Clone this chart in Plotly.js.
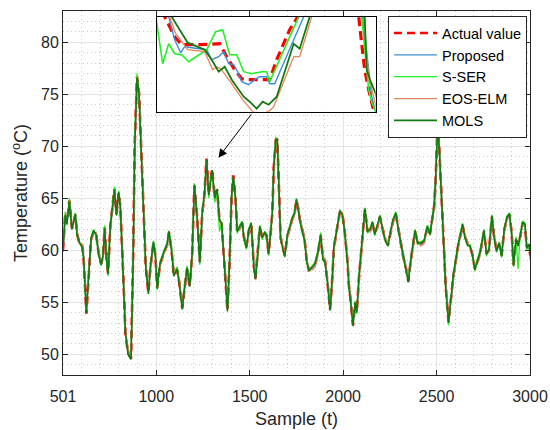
<!DOCTYPE html>
<html><head><meta charset="utf-8">
<script src="https://cdn.plot.ly/plotly-3.0.1.min.js"></script>
<style>html,body{margin:0;padding:0;background:#fff}#chart{width:550px;height:430px}</style>
</head><body><div id="chart"></div>
<script>
const samples = [501,513,522,535,549,567,576,588,603,611,626,638,651,665,678,692,705,715,724,733,742,754,767,776,787,799,808,817,826,835,849,865,876,885,897,908,920,933,944,958,969,985,996,1005,1020,1040,1058,1068,1082,1094,1112,1124,1139,1152,1165,1179,1192,1204,1219,1233,1246,1258,1269,1281,1290,1299,1313,1326,1338,1350,1362,1374,1381,1392,1403,1412,1424,1433,1446,1460,1469,1482,1496,1508,1522,1531,1544,1554,1567,1580,1590,1601,1612,1621,1629,1640,1648,1656,1665,1676,1688,1701,1715,1728,1740,1750,1758,1769,1782,1794,1805,1817,1835,1850,1865,1880,1892,1903,1915,1930,1942,1951,1969,1983,1996,2008,2023,2031,2040,2053,2064,2073,2085,2098,2108,2117,2130,2144,2157,2169,2183,2197,2210,2224,2240,2255,2269,2282,2294,2308,2321,2335,2349,2362,2374,2385,2398,2415,2433,2451,2465,2478,2487,2495,2505,2514,2523,2537,2549,2564,2576,2589,2603,2617,2630,2639,2651,2666,2680,2693,2705,2719,2733,2746,2754,2767,2781,2796,2808,2821,2835,2848,2862,2877,2891,2902,2912,2925,2936,2948,2960,2973,2983,2996,3000];

const actualValue = [60.0,63.5,62.6,64.8,62.1,63.4,61.6,60.7,60.5,59.4,
53.9,57.8,61.0,61.8,61.6,59.7,58.7,59.4,62.2,59.4,
57.8,62.2,64.2,65.9,63.5,65.5,64.2,60.7,56.5,52.0,
50.1,49.6,59.0,70.3,76.7,75.1,69.3,62.9,58.4,55.9,
58.4,60.7,59.4,56.4,58.6,59.7,60.5,61.7,60.0,57.6,
58.1,56.8,54.4,56.4,58.2,56.6,59.5,66.2,63.2,58.9,
63.5,65.4,68.8,65.4,66.7,67.8,65.1,65.8,63.0,62.5,
59.4,56.5,54.2,58.7,65.1,67.2,65.1,61.9,62.1,62.6,
61.3,60.3,61.9,62.5,58.5,57.3,59.7,62.2,61.3,61.6,
61.4,59.7,61.6,63.5,68.0,70.6,70.7,66.1,61.3,60.3,
59.5,61.3,62.2,63.0,63.5,64.8,64.2,62.9,61.9,61.0,
59.0,58.1,58.3,58.6,59.7,61.4,59.2,59.0,57.2,54.3,
57.3,60.3,62.2,63.7,63.5,61.9,59.0,56.6,55.2,52.8,
54.9,54.1,57.4,60.6,62.2,63.9,61.9,61.9,62.6,61.6,
62.2,63.2,62.2,61.1,60.5,61.9,62.9,63.5,62.2,60.8,
59.4,58.4,57.0,59.0,60.6,61.8,60.8,60.6,60.8,62.2,
61.6,63.1,64.2,66.7,71.9,70.0,66.7,60.3,56.5,53.1,
55.2,57.4,59.0,60.6,61.6,62.4,61.4,60.6,60.3,59.5,
58.2,58.9,59.7,61.0,61.8,59.7,60.0,63.2,61.3,60.0,
60.6,59.5,61.9,63.1,63.4,61.6,58.6,61.0,60.5,61.3,
62.6,62.4,60.3,60.5,59.6];

const proposed = [60.1,63.3,62.7,64.6,62.2,63.3,61.7,60.8,60.4,59.5,
54.1,57.6,60.9,61.7,61.5,59.8,58.8,59.3,62.0,59.5,
57.9,62.0,64.1,65.7,63.6,65.4,64.3,60.9,56.7,52.2,
50.3,49.8,58.7,70.0,76.5,75.2,69.5,63.1,58.5,56.0,
58.3,60.6,59.5,56.6,58.5,59.8,60.4,61.6,60.1,57.7,
58.0,56.9,54.6,56.3,58.1,56.7,59.3,66.0,63.4,59.0,
63.3,65.3,68.6,65.5,66.6,67.6,65.2,65.7,63.1,62.4,
59.6,56.7,54.4,58.5,64.9,67.0,65.2,62.0,62.0,62.5,
61.4,60.4,61.8,62.4,58.7,57.4,59.6,62.1,61.4,61.5,
61.3,59.8,61.5,63.3,67.8,70.4,70.5,66.3,61.5,60.4,
59.6,61.2,62.1,62.9,63.4,64.6,64.3,63.0,62.0,61.1,
59.1,58.2,58.2,58.5,59.6,61.3,59.3,59.1,57.4,54.5,
57.1,60.1,62.1,63.6,63.4,62.0,59.2,56.8,55.4,53.0,
54.8,54.2,57.2,60.4,62.1,63.7,62.0,61.8,62.5,61.7,
62.1,63.1,62.3,61.2,60.6,61.8,62.8,63.4,62.3,60.9,
59.5,58.5,57.2,58.8,60.5,61.7,60.9,60.5,60.7,62.1,
61.7,62.9,64.0,66.5,71.6,70.1,66.9,60.5,56.7,53.3,
55.0,57.2,58.9,60.5,61.5,62.3,61.5,60.7,60.2,59.6,
58.3,58.8,59.6,60.9,61.7,59.8,59.9,63.0,61.4,60.1,
60.5,59.6,61.8,63.0,63.3,61.7,58.8,60.8,60.6,61.2,
62.5,62.3,60.4,60.4,59.7];

const sSer = [60.3,63.7,62.4,65.0,62.0,63.6,61.4,60.9,60.2,59.2,
54.3,57.5,61.2,62.0,61.3,59.5,58.5,59.7,62.4,59.1,
57.5,62.4,64.4,66.1,63.3,65.7,64.0,60.5,56.3,52.3,
50.4,49.9,58.5,70.6,77.0,75.0,69.0,62.6,58.6,56.2,
58.6,60.9,59.2,56.2,58.8,59.9,60.7,61.9,60.4,57.9,
58.4,57.0,54.7,56.7,58.5,56.9,59.8,66.4,63.0,58.6,
63.7,65.6,68.5,65.0,66.9,67.5,64.6,65.5,61.8,62.7,
59.2,56.3,54.5,59.0,65.3,67.0,64.8,61.6,62.4,62.8,
61.0,60.1,62.1,62.7,58.2,57.6,60.0,62.4,61.0,61.8,
61.6,59.5,61.8,63.7,68.3,70.9,70.4,65.8,61.0,60.5,
59.3,61.5,62.4,63.2,63.7,65.0,64.0,62.7,61.7,60.8,
58.8,58.0,58.5,58.9,60.0,61.7,59.0,58.8,57.0,54.6,
57.6,60.5,62.4,63.9,63.3,61.6,58.7,56.3,55.0,53.1,
55.1,53.9,57.7,60.9,62.4,64.1,61.6,62.1,62.8,61.4,
62.4,63.4,62.0,60.9,60.7,62.1,63.1,63.7,62.0,60.6,
59.2,58.2,57.3,59.3,60.9,62.0,60.5,60.8,61.0,62.4,
61.4,63.3,64.5,67.0,72.0,69.7,66.4,60.0,56.2,52.8,
55.5,57.7,59.3,60.8,61.9,62.6,61.2,60.4,60.5,59.3,
58.0,59.2,60.0,61.3,62.0,59.4,60.3,63.4,61.1,59.8,
60.8,59.3,62.1,63.3,63.6,61.3,58.4,61.3,58.2,61.6,
62.8,62.6,60.1,60.2,59.1];

const eosElm = [59.8,63.2,62.8,64.5,62.3,63.1,61.8,60.6,60.6,59.6,
54.2,57.6,60.8,61.6,61.7,59.9,58.9,59.2,61.9,59.6,
58.0,61.9,63.9,65.6,63.7,65.2,64.4,61.0,56.8,52.4,
50.4,49.9,58.4,69.8,76.3,75.3,69.6,63.2,58.7,56.2,
58.2,60.5,59.6,56.7,58.4,59.6,60.3,61.5,60.2,57.9,
57.9,57.0,54.7,56.2,58.0,56.8,59.1,65.8,63.5,59.1,
63.2,65.1,68.4,65.6,66.4,67.5,65.3,65.6,63.2,62.3,
59.7,56.8,54.5,58.3,64.8,66.9,65.3,62.1,61.9,62.4,
61.5,60.5,61.7,62.3,58.8,57.5,59.5,62.0,61.5,61.4,
61.2,59.9,61.4,63.2,67.7,70.3,70.4,66.4,61.6,60.5,
59.7,61.1,62.0,62.8,63.3,64.5,64.4,63.1,62.1,61.2,
59.2,58.3,58.1,58.4,59.5,61.2,59.4,59.2,57.5,54.6,
57.0,60.0,62.0,63.5,63.6,62.1,59.3,56.9,55.5,53.1,
54.7,54.3,57.1,60.3,62.0,63.6,62.1,61.7,62.4,61.8,
62.0,63.0,62.4,61.3,60.7,61.7,62.7,63.3,62.4,61.0,
59.6,58.6,57.3,58.7,60.4,61.6,61.0,60.4,60.6,62.0,
61.8,62.8,63.9,66.3,71.4,70.2,67.0,60.7,56.9,53.4,
54.9,57.1,58.8,60.4,61.4,62.2,61.6,60.8,60.1,59.7,
58.4,58.7,59.5,60.8,61.6,59.9,59.8,62.9,61.5,60.2,
60.4,59.7,61.7,62.9,63.2,61.8,58.9,60.7,60.7,61.1,
62.4,62.5,60.5,60.3,59.8];

const mols = [60.0,63.4,62.5,64.7,62.0,63.5,61.5,60.8,60.3,59.3,
54.0,57.9,61.1,61.9,61.5,59.6,58.6,59.5,62.1,59.3,
57.7,62.3,64.3,65.8,63.4,65.6,64.1,60.6,56.4,52.1,
50.0,49.5,58.8,70.1,76.6,75.0,69.2,62.8,58.3,55.8,
58.5,60.8,59.3,56.3,58.7,59.8,60.6,61.8,59.9,57.5,
58.2,56.7,54.3,56.5,58.3,56.5,59.6,66.3,63.1,58.8,
63.6,65.5,68.7,65.3,66.8,67.7,65.0,65.9,62.9,62.6,
59.3,56.4,54.1,58.8,65.2,67.1,65.0,61.8,62.2,62.7,
61.2,60.2,62.0,62.6,58.4,57.2,59.8,62.3,61.2,61.7,
61.5,59.6,61.7,63.6,68.1,70.7,70.6,66.0,61.2,60.2,
59.4,61.4,62.3,63.1,63.6,64.9,64.1,62.8,61.8,60.9,
58.9,58.0,58.4,58.7,59.8,61.5,59.1,58.9,57.1,54.2,
57.4,60.4,62.3,63.8,63.4,61.8,58.9,56.5,55.1,52.7,
55.0,54.0,57.5,60.7,62.3,64.0,61.8,62.0,62.7,61.5,
62.3,63.3,62.1,61.0,60.4,62.0,63.0,63.6,62.1,60.7,
59.3,58.3,56.9,59.1,60.7,61.9,60.7,60.7,60.9,62.3,
61.5,63.2,64.3,66.8,71.8,69.9,66.6,60.2,56.4,53.0,
55.3,57.5,59.1,60.7,61.7,62.5,61.3,60.5,60.4,59.4,
58.1,59.0,59.8,61.1,61.9,59.6,60.1,63.3,61.2,59.9,
60.7,59.4,62.0,63.2,63.5,61.5,58.5,61.1,60.4,61.4,
62.7,62.5,60.2,60.6,59.5];

// zoomed inset (detail window)
const insetActualX = [1250.8,1251.6,1253.6,1255.0,1258.6,1262.6,1264.0,1265.6,1267.0,1268.0,1271.4,1272.6,1274.0,1275.4,1276.6,1278.0,1279.2,1289.2,1290.4,1291.0,1291.6,1292.4,1293.4,1294.4];
const insetActualY = [68.40,68.00,67.60,67.44,67.44,67.46,67.20,66.94,66.76,66.74,66.74,66.74,67.14,67.46,67.74,67.96,68.40,68.40,68.00,67.46,66.94,66.54,66.14,65.70];
const insetProposedX = [1251.6,1252.4,1253.6,1254.8,1255.6,1258.0,1260.0,1261.0,1262.4,1263.4,1264.4,1265.4,1266.2,1267.0,1268.4,1269.6,1270.6,1272.0,1272.6,1273.6,1279.4,1280.6,1290.0,1291.2,1293.0,1294.0];
const insetProposedY = [68.40,68.00,67.54,67.28,67.40,67.36,67.34,67.14,67.20,67.30,67.06,67.04,66.90,66.70,66.64,66.74,66.80,66.80,66.66,66.66,68.00,68.40,68.40,68.00,66.40,66.00];
const insetSSerX = [1249.4,1250.0,1251.2,1252.4,1253.6,1255.0,1256.4,1260.0,1261.8,1263.2,1264.6,1266.0,1267.4,1269.0,1271.0,1272.0,1272.6,1278.4,1279.6,1289.8,1291.0,1292.4,1293.0,1293.8,1294.4];
const insetSSerY = [68.30,67.86,67.06,67.46,67.26,67.24,67.10,67.34,67.70,67.74,67.24,67.24,66.90,66.86,66.90,66.90,66.70,68.00,68.40,68.40,68.00,66.54,66.30,66.10,65.90];
const insetEosX = [1252.0,1252.6,1253.8,1256.2,1259.6,1261.2,1262.0,1262.8,1265.0,1267.2,1269.2,1270.8,1272.6,1273.4,1277.4,1278.6,1281.0,1282.0,1290.4,1291.4,1292.4,1293.4,1294.0,1294.6];
const insetEosY = [68.40,68.00,67.66,67.34,67.30,66.94,67.00,66.96,66.66,66.34,66.10,66.04,66.12,66.20,67.20,67.20,68.00,68.40,68.40,68.00,66.80,66.40,66.14,65.90];
const insetMolsX = [1252.4,1253.0,1256.2,1259.6,1261.0,1262.4,1263.6,1265.0,1267.4,1268.6,1270.0,1271.2,1272.4,1274.0,1277.4,1278.6,1280.6,1281.6,1290.6,1291.6,1292.0,1292.8,1293.8,1294.4];
const insetMolsY = [68.40,68.00,67.48,67.34,67.14,66.90,67.00,66.74,66.40,66.30,66.16,66.30,66.24,66.40,67.46,67.36,68.00,68.40,68.40,68.00,66.94,66.70,66.46,66.20];

const seriesNames = ['Actual value','Proposed','S-SER','EOS-ELM','MOLS'];
const xTickVals = [501,1000,1500,2000,2500,3000];
const xTickText = ['501','1000','1500','2000','2500','3000'];
const yTickVals = [50,55,60,65,70,75,80];

const cRed = '#FF0000', cBlue = '#3A8FD3', cGreen = '#22F022', cOrange = '#E8845A', cDark = '#137A13';

const traces = [
  {x:samples, y:actualValue, name:seriesNames[0], type:'scatter', mode:'lines', line:{color:cRed, width:2.6, dash:'8px,5px'}},
  {x:samples, y:proposed, name:seriesNames[1], type:'scatter', mode:'lines', line:{color:cBlue, width:1.3}},
  {x:samples, y:sSer, name:seriesNames[2], type:'scatter', mode:'lines', line:{color:cGreen, width:1.3}},
  {x:samples, y:eosElm, name:seriesNames[3], type:'scatter', mode:'lines', line:{color:cOrange, width:1.3}},
  {x:samples, y:mols, name:seriesNames[4], type:'scatter', mode:'lines', line:{color:cDark, width:1.6}},
  {x:insetActualX, y:insetActualY, xaxis:'x2', yaxis:'y2', showlegend:false, type:'scatter', mode:'lines', line:{color:cRed, width:3.2, dash:'9px,5px'}},
  {x:insetProposedX, y:insetProposedY, xaxis:'x2', yaxis:'y2', showlegend:false, type:'scatter', mode:'lines', line:{color:cBlue, width:1.4}},
  {x:insetSSerX, y:insetSSerY, xaxis:'x2', yaxis:'y2', showlegend:false, type:'scatter', mode:'lines', line:{color:cGreen, width:1.6}},
  {x:insetEosX, y:insetEosY, xaxis:'x2', yaxis:'y2', showlegend:false, type:'scatter', mode:'lines', line:{color:cOrange, width:1.3}},
  {x:insetMolsX, y:insetMolsY, xaxis:'x2', yaxis:'y2', showlegend:false, type:'scatter', mode:'lines', line:{color:cDark, width:1.8}}
];

const axisCommon = {
  ticks:'inside', ticklen:5, tickcolor:'#262626', tickwidth:1,
  showline:true, linecolor:'#262626', linewidth:1, mirror:'ticks',
  showgrid:true, gridcolor:'#e4e4e4', gridwidth:1, zeroline:false,
  tickfont:{size:16, color:'#262626'}
};

const layout = {
  width:550, height:430,
  margin:{l:63, r:20, t:11, b:55},
  paper_bgcolor:'#ffffff', plot_bgcolor:'#ffffff',
  font:{family:'"Liberation Sans", Arial, Helvetica, sans-serif', color:'#262626', size:16},
  xaxis:Object.assign({}, axisCommon, {
    range:[501,3000], tickmode:'array', tickvals:xTickVals, ticktext:xTickText,
    ticklabelstandoff:7,
    minor:{tickmode:'linear', tick0:0, dtick:100, showgrid:true, gridcolor:'#cdcdcd', griddash:'1px,3px', gridwidth:1, ticks:''},
    title:{text:'Sample (t)', font:{size:18, color:'#262626'}, standoff:8}
  }),
  yaxis:Object.assign({}, axisCommon, {
    range:[48,83], tickmode:'array', tickvals:yTickVals,
    minor:{tickmode:'linear', tick0:0, dtick:1, showgrid:true, gridcolor:'#cdcdcd', griddash:'1px,3px', gridwidth:1, ticks:''},
    title:{text:'Temperature (<sup>o</sup>C)', font:{size:18, color:'#262626'}, standoff:8}
  }),
  xaxis2:{domain:[0.2006,0.6696], anchor:'y2', range:[1250,1293.8], showticklabels:false, ticks:'', showgrid:false, zeroline:false, showline:true, mirror:true, linecolor:'#000', linewidth:1},
  yaxis2:{domain:[0.7234,0.9843], anchor:'x2', range:[66.1,68.0], showticklabels:false, ticks:'', showgrid:false, zeroline:false, showline:true, mirror:true, linecolor:'#000', linewidth:1},
  shapes:[{type:'rect', xref:'x2 domain', yref:'y2 domain', x0:0, x1:1, y0:0, y1:1, layer:'below', fillcolor:'#ffffff', line:{width:0}}],
  annotations:[{x:1333, y:68.9, xref:'x', yref:'y', ax:1514, ay:73.2, axref:'x', ayref:'y', text:'', showarrow:true, arrowhead:2, arrowsize:1.7, arrowwidth:1, arrowcolor:'#000'}],
  legend:{x:0.9936, xanchor:'right', y:0.986, yanchor:'top', bgcolor:'#ffffff', bordercolor:'#262626', borderwidth:1, font:{size:14.5, color:'#000'}, tracegroupgap:0, itemwidth:43}
};

Plotly.newPlot('chart', traces, layout, {displayModeBar:false, staticPlot:true});
</script>
</body></html>
